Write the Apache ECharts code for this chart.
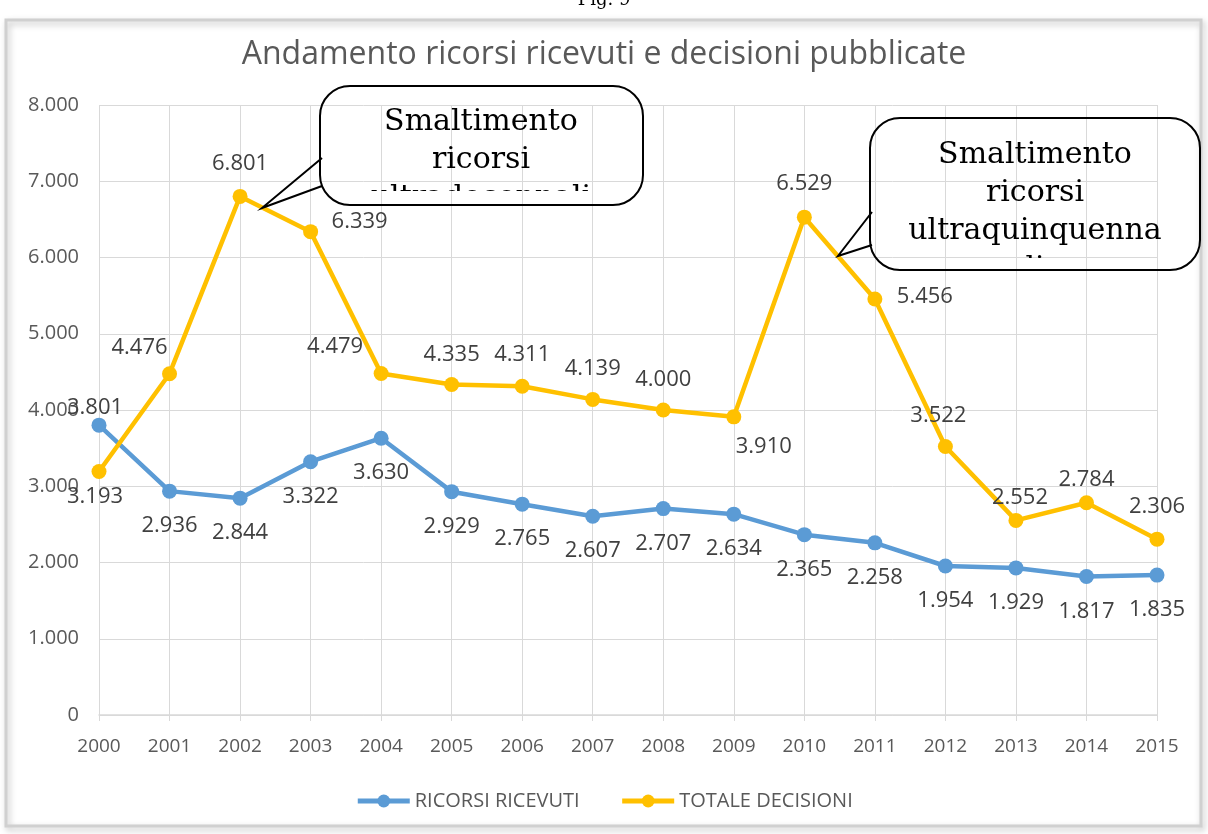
<!DOCTYPE html>
<html>
<head>
<meta charset="utf-8">
<script src="https://cdn.jsdelivr.net/npm/echarts@6/dist/echarts.min.js"></script>
<style>
  html, body { margin: 0; padding: 0; background: #fff; }
  #chart { width: 1208px; height: 834px; }
</style>
</head>
<body>
<div id="chart"></div>
<script>
const anni = ["2000", "2001", "2002", "2003", "2004", "2005", "2006", "2007",
  "2008", "2009", "2010", "2011", "2012", "2013", "2014", "2015"];
const ricorsiRicevuti = [3801, 2936, 2844, 3322, 3630, 2929, 2765, 2607,
  2707, 2634, 2365, 2258, 1954, 1929, 1817, 1835];
const totaleDecisioni = [3193, 4476, 6801, 6339, 4479, 4335, 4311, 4139,
  4000, 3910, 6529, 5456, 3522, 2552, 2784, 2306];
const yTicks = [0, 1000, 2000, 3000, 4000, 5000, 6000, 7000, 8000];
const nota1 = "Smaltimento\nricorsi\nultradecennali";
const nota2 = "Smaltimento\nricorsi\nultraquinquenna\nli";

// spostamento etichette (px) rispetto al punto
const offRicevuti = [[-4, -17]].concat(anni.slice(1).map(() => [0, 35]));
const offDecisioni = [[-4, 25], [-30, -26], [0, -33], [49, -10], [-46, -27],
  [0, -30], [0, -32], [0, -31], [0, -30], [30, 30], [0, -33], [50, -2],
  [-7, -31], [4, -23], [0, -23], [0, -32]];

const fmt = v => String(v).replace(/\B(?=(\d{3})+(?!\d))/g, ".");

const mkData = (vals, offs) => vals.map((v, i) => ({
  value: v,
  label: { offset: offs[i] }
}));

const chart = echarts.init(document.getElementById("chart"));

const serif = "'DejaVu Serif', 'Liberation Serif', serif";
const sans = "'Open Sans', 'Noto Sans', 'Liberation Sans', sans-serif";

// testo del fumetto tagliato dal riquadro (come in Excel)
const fumetto = (txt, cx, top, clip) => ({
  type: "text",
  clipPath: { type: "rect", shape: clip },
  style: {
    text: txt,
    x: cx,
    y: top,
    font: "30px " + serif,
    lineHeight: 38,
    align: "center",
    verticalAlign: "top",
    fill: "#000"
  }
});

chart.setOption({
  animation: false,
  backgroundColor: "#fff",
  title: {
    text: "Andamento ricorsi ricevuti e decisioni pubblicate",
    left: "center",
    top: 34,
    textStyle: { fontFamily: sans, fontSize: 32, fontWeight: "normal", color: "#595959" }
  },
  legend: {
    bottom: 18,
    left: "center",
    itemWidth: 52,
    itemHeight: 16,
    itemGap: 40,
    lineStyle: { width: 5 },
    textStyle: { fontFamily: sans, fontSize: 20, color: "#595959" },
    data: ["RICORSI RICEVUTI", "TOTALE DECISIONI"]
  },
  grid: { left: 99, right: 51, top: 105, bottom: 119 },
  xAxis: {
    type: "category",
    data: anni,
    boundaryGap: false,
    axisLine: { lineStyle: { color: "#D9D9D9", width: 1.5 } },
    axisTick: { show: true, length: 6, lineStyle: { color: "#D9D9D9" } },
    axisLabel: { margin: 22, fontFamily: sans, fontSize: 19, color: "#595959" },
    splitLine: { show: true, lineStyle: { color: "#D9D9D9", width: 1 } }
  },
  yAxis: {
    type: "value",
    min: yTicks[0],
    max: yTicks[yTicks.length - 1],
    interval: 1000,
    axisLine: { show: false },
    axisTick: { show: false },
    axisLabel: { margin: 20, formatter: fmt, fontFamily: sans, fontSize: 20, color: "#595959" },
    splitLine: { lineStyle: { color: "#D9D9D9", width: 1 } }
  },
  series: [
    {
      name: "RICORSI RICEVUTI",
      type: "line",
      data: mkData(ricorsiRicevuti, offRicevuti),
      color: "#5B9BD5",
      lineStyle: { width: 4.5, color: "#5B9BD5" },
      symbol: "circle",
      symbolSize: 15,
      itemStyle: { color: "#5B9BD5" },
      label: {
        show: true,
        position: "inside",
        formatter: p => fmt(p.value),
        fontFamily: sans,
        fontSize: 22,
        color: "#404040"
      },
      z: 3
    },
    {
      name: "TOTALE DECISIONI",
      type: "line",
      data: mkData(totaleDecisioni, offDecisioni),
      color: "#FFC000",
      lineStyle: { width: 4.5, color: "#FFC000" },
      symbol: "circle",
      symbolSize: 15,
      itemStyle: { color: "#FFC000" },
      label: {
        show: true,
        position: "inside",
        formatter: p => fmt(p.value),
        fontFamily: sans,
        fontSize: 22,
        color: "#404040"
      },
      z: 4
    },
    {
      type: "custom",
      coordinateSystem: "none",
      silent: true,
      z: 10,
      data: [0],
      renderItem: () => ({
        type: "group",
        children: [
          fumetto(nota1, 481, 103, { x: 320, y: 86, width: 323, height: 105 }),
          fumetto(nota2, 1035, 136, { x: 870, y: 118, width: 330, height: 140 })
        ]
      })
    }
  ],
  graphic: [
    // cornice
    {
      type: "rect",
      shape: { x: 6, y: 20, width: 1195, height: 806 },
      style: { fill: "none", stroke: "#D0D0D0", lineWidth: 3, shadowBlur: 6, shadowColor: "rgba(0,0,0,0.25)", shadowOffsetX: 2, shadowOffsetY: 3 },
      z: -1
    },
    {
      type: "text",
      left: "center",
      top: -9,
      style: { text: "Fig. 9", font: "18px " + serif, fill: "#000" }
    },
    // fumetto 1
    {
      type: "polyline",
      shape: { points: [[322, 158], [262, 208], [322, 186]] },
      style: { stroke: "#000", lineWidth: 2, fill: "none" },
      z: 10
    },
    {
      type: "rect",
      shape: { x: 320, y: 86, width: 323, height: 119, r: 30 },
      style: { stroke: "#000", lineWidth: 2, fill: "none" },
      z: 10
    },
    // fumetto 2
    {
      type: "polyline",
      shape: { points: [[872, 212], [838, 256], [872, 245]] },
      style: { stroke: "#000", lineWidth: 2, fill: "none" },
      z: 10
    },
    {
      type: "rect",
      shape: { x: 870, y: 118, width: 330, height: 152, r: 30 },
      style: { stroke: "#000", lineWidth: 2, fill: "none" },
      z: 10
    }
  ]
});
</script>
</body>
</html>
